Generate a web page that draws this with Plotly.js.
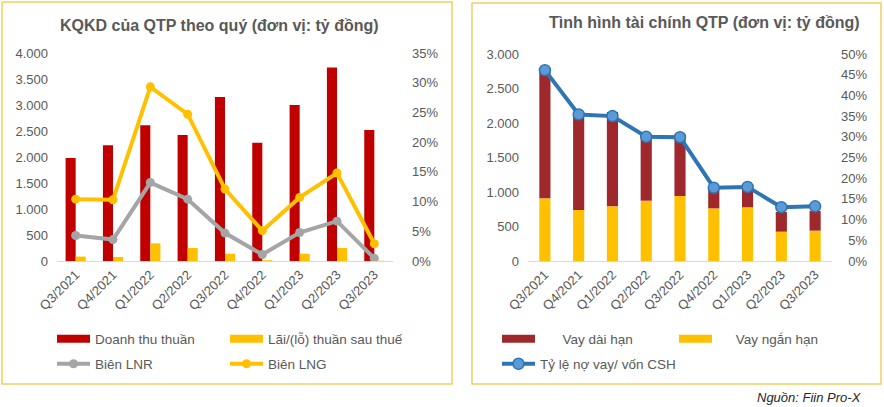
<!DOCTYPE html>
<html>
<head>
<meta charset="utf-8">
<script src="https://cdn.plot.ly/plotly-3.0.1.min.js"></script>
<style>html,body{margin:0;padding:0;background:#fff;}#chart{width:884px;height:407px;}</style>
</head>
<body>
<div id="chart"></div>
<script>
// ---- Data ----
const quarters = ["Q3/2021","Q4/2021","Q1/2022","Q2/2022","Q3/2022","Q4/2022","Q1/2023","Q2/2023","Q3/2023"];
// Left chart: KQKD (tỷ đồng, %)
const doanhThuThuan = [1980, 2225, 2610, 2425, 3155, 2275, 3000, 3720, 2520];
const laiSauThue    = [85, 78, 340, 250, 140, 15, 140, 250, 5];
const bienLNR       = [4.3, 3.6, 13.2, 10.4, 4.7, 1.1, 4.8, 6.7, 0.45];
const bienLNG       = [10.4, 10.3, 29.3, 24.7, 12.1, 5.1, 10.7, 14.8, 2.9];
// Right chart: Tình hình tài chính
const vayNganHan    = [908, 739, 792, 874, 942, 763, 778, 425, 440];
const vayDaiHan     = [1860, 1411, 1367, 956, 894, 324, 333, 285, 285];
const tyLeNoVay     = [46.1, 35.4, 35.0, 30.0, 29.9, 17.7, 17.9, 13.0, 13.2];
// Tick labels
const leftTickVals  = [0,500,1000,1500,2000,2500,3000,3500,4000];
const leftTickText  = ["0","500","1.000","1.500","2.000","2.500","3.000","3.500","4.000"];
const leftPctVals   = [0,5,10,15,20,25,30,35];
const leftPctText   = ["0%","5%","10%","15%","20%","25%","30%","35%"];
const rightTickVals = [0,500,1000,1500,2000,2500,3000];
const rightTickText = ["0","500","1.000","1.500","2.000","2.500","3.000"];
const rightPctVals  = [0,5,10,15,20,25,30,35,40,45,50];
const rightPctText  = ["\u20070%","\u20075%","10%","15%","20%","25%","30%","35%","40%","45%","50%"];

const W = 884, H = 407;
const px = x => x / W;
const py = y => 1 - y / H;
const FONT = "Liberation Sans, Arial, sans-serif";
const GRAY = "#595959";
const RED = "#C00000", YEL = "#FFC000", GRY = "#A5A5A5", DRED = "#9E282B", BLUE = "#2E75B6";
const NB = "\u00A0";

// stacked right bars: long-term loans sit on top of short-term loans
const daiHanBase = vayNganHan.slice();

function legendOnly(name, color, legend) {
  return {type:"scatter", mode:"lines", name:name, x:[null], y:[null], xaxis:"x", yaxis:"y",
          line:{color:color, width:8}, legend:legend, hoverinfo:"skip"};
}

const traces = [
  {type:"bar", name:"Doanh thu thuần", x:quarters, y:doanhThuThuan, xaxis:"x", yaxis:"y",
   marker:{color:RED}, width:0.27, offset:-0.27, showlegend:false},
  {type:"bar", name:"Lãi/(lỗ) thuần sau thuế", x:quarters, y:laiSauThue, xaxis:"x", yaxis:"y",
   marker:{color:YEL}, width:0.27, offset:0.0, showlegend:false},
  {type:"scatter", mode:"lines+markers", name:"Biên LNR", x:quarters, y:bienLNR, xaxis:"x", yaxis:"y2",
   line:{color:GRY, width:4}, marker:{color:GRY, size:9}, legend:"legend3"},
  {type:"scatter", mode:"lines+markers", name:"Biên LNG", x:quarters, y:bienLNG, xaxis:"x", yaxis:"y2",
   line:{color:YEL, width:4}, marker:{color:YEL, size:9}, legend:"legend4"},
  {type:"bar", name:"Vay ngắn hạn", x:quarters, y:vayNganHan, xaxis:"x2", yaxis:"y3",
   marker:{color:YEL}, width:0.33, offset:-0.165, showlegend:false},
  {type:"bar", name:"Vay dài hạn", x:quarters, y:vayDaiHan, base:daiHanBase, xaxis:"x2", yaxis:"y3",
   marker:{color:DRED}, width:0.33, offset:-0.165, showlegend:false},
  {type:"scatter", mode:"lines+markers", name:"Tỷ lệ nợ vay/ vốn CSH", x:quarters, y:tyLeNoVay, xaxis:"x2", yaxis:"y4",
   line:{color:BLUE, width:4}, marker:{color:"#5B9BD5", size:11, line:{color:BLUE, width:1.5}}, legend:"legend7"},
  legendOnly("Doanh thu thuần", RED, "legend"),
  legendOnly("Lãi/(lỗ) thuần sau thuế", YEL, "legend2"),
  legendOnly(NB+NB+NB+NB+NB+NB+"Vay dài hạn", DRED, "legend5"),
  legendOnly(NB+NB+NB+NB+NB+"Vay ngắn hạn", YEL, "legend6")
];

function leg(x, y) {
  return {x:px(x), y:py(y), xanchor:"left", yanchor:"middle", orientation:"h",
          bgcolor:"rgba(0,0,0,0)", font:{family:FONT, size:13.5, color:GRAY},
          itemwidth:33, tracegroupgap:0};
}

const tickFont = {family:FONT, size:13, color:GRAY};

const layout = {
  width:W, height:H,
  margin:{l:0, r:0, t:0, b:0},
  paper_bgcolor:"#fff", plot_bgcolor:"rgba(0,0,0,0)",
  barmode:"overlay",
  showlegend:true,
  font:{family:FONT, color:GRAY},
  xaxis:{domain:[px(57), px(393)], anchor:"y", type:"category", tickangle:-45,
         tickfont:tickFont, showline:true, linecolor:"#D9D9D9", linewidth:1,
         ticks:"", showgrid:false, zeroline:false, range:[-0.5, 8.5]},
  yaxis:{domain:[py(261), py(53)], range:[0,4000], tickvals:leftTickVals, ticktext:leftTickText,
         tickfont:tickFont, showgrid:false, zeroline:false, showline:false, ticks:"",
         ticklabelstandoff:8},
  yaxis2:{overlaying:"y", side:"right", anchor:"x", range:[0,35], tickvals:leftPctVals, ticktext:leftPctText,
          tickfont:tickFont, showgrid:false, zeroline:false, showline:false, ticks:"",
          ticklabelstandoff:18},
  xaxis2:{domain:[px(528), px(832)], anchor:"y3", type:"category", tickangle:-45,
          tickfont:tickFont, showline:true, linecolor:"#D9D9D9", linewidth:1,
          ticks:"", showgrid:false, zeroline:false, range:[-0.5, 8.5]},
  yaxis3:{domain:[py(261), py(54)], anchor:"x2", range:[0,3000], tickvals:rightTickVals, ticktext:rightTickText,
          tickfont:tickFont, showgrid:false, zeroline:false, showline:false, ticks:"",
          ticklabelstandoff:8},
  yaxis4:{overlaying:"y3", side:"right", anchor:"x2", range:[0,50], tickvals:rightPctVals, ticktext:rightPctText,
          tickfont:tickFont, showgrid:false, zeroline:false, showline:false, ticks:"",
          ticklabelstandoff:8},
  legend:leg(52, 339),
  legend2:leg(225, 339),
  legend3:leg(52, 364),
  legend4:leg(225, 364),
  legend5:leg(497, 339),
  legend6:leg(674, 339),
  legend7:leg(497, 364),
  annotations:[
    {text:"<b>KQKD của QTP theo quý (đơn vị: tỷ đồng)</b>", xref:"paper", yref:"paper",
     x:px(219), y:py(25), xanchor:"center", yanchor:"middle", showarrow:false,
     font:{family:FONT, size:16, color:GRAY}},
    {text:"<b>Tình hình tài chính QTP (đơn vị: tỷ đồng)</b>", xref:"paper", yref:"paper",
     x:px(704), y:py(22), xanchor:"center", yanchor:"middle", showarrow:false,
     font:{family:FONT, size:16, color:GRAY}},
    {text:"<i>Nguồn: Fiin Pro-X</i>", xref:"paper", yref:"paper",
     x:px(864), y:py(397), xanchor:"right", yanchor:"middle", showarrow:false,
     font:{family:FONT, size:13, color:"#262626"}}
  ],
  shapes:[
    {type:"rect", xref:"paper", yref:"paper", x0:px(2), x1:px(452), y0:py(384), y1:py(2),
     line:{color:"#F3CF5F", width:1.5}, layer:"below"},
    {type:"rect", xref:"paper", yref:"paper", x0:px(472), x1:px(881), y0:py(384), y1:py(3),
     line:{color:"#F3CF5F", width:1.5}, layer:"below"}
  ]
};

Plotly.newPlot("chart", traces, layout, {displayModeBar:false, staticPlot:true});
</script>
</body>
</html>
